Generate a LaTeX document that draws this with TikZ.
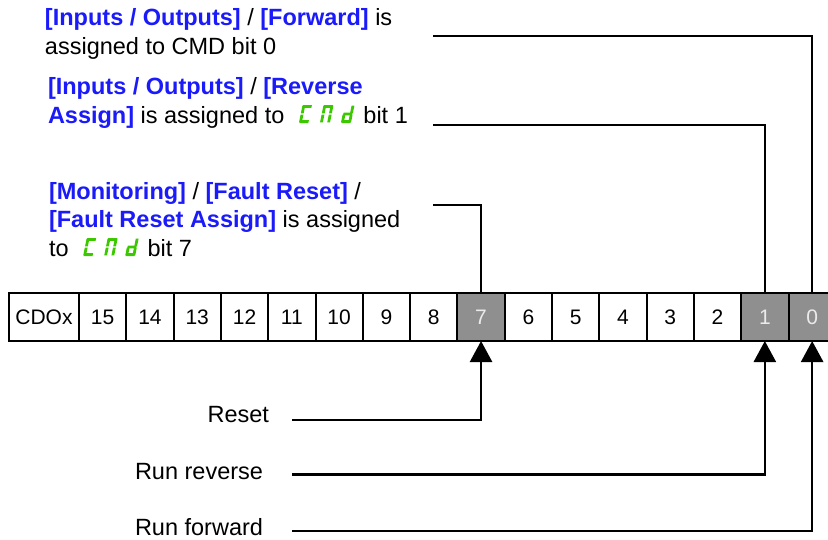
\documentclass[tikz,border=0pt]{standalone}
\usepackage{fontspec}
\setmainfont{Liberation Sans}
\usetikzlibrary{arrows.meta}
\definecolor{txtblue}{RGB}{26,26,250}
\definecolor{segreen}{RGB}{60,200,0}
\definecolor{cellgray}{RGB}{143,143,143}
\definecolor{celltxt}{RGB}{235,235,235}
\newcommand{\bl}[1]{\textbf{\color{txtblue}#1}}
\newcommand{\sgA}[1]{\fill[segreen] (#1+0.6,15.2) rectangle (#1+9.4,18);}
\newcommand{\sgF}[1]{\fill[segreen] (#1,9.6) rectangle (#1+2.8,17.4);}
\newcommand{\sgE}[1]{\fill[segreen] (#1,0.6) rectangle (#1+2.8,8.4);}
\newcommand{\sgD}[1]{\fill[segreen] (#1+0.6,0) rectangle (#1+9.4,2.8);}
\newcommand{\sgB}[1]{\fill[segreen] (#1+7.2,9.6) rectangle (#1+10,17.4);}
\newcommand{\sgCc}[1]{\fill[segreen] (#1+7.2,0.6) rectangle (#1+10,8.4);}
\newcommand{\sgG}[1]{\fill[segreen] (#1+0.6,7.6) rectangle (#1+9.4,10.4);}
\newcommand{\cmdsym}{\tikz[baseline=0pt,x=1pt,y=1pt,xslant=0.2]{%
  \path (0,0) (66,0);
  \sgA{8}\sgF{8}\sgE{8}\sgD{8}%
  \sgA{29}\sgF{29}\sgE{29}\sgB{29}\sgCc{29}%
  \sgB{50}\sgCc{50}\sgG{50}\sgE{50}\sgD{50}}}
\tikzset{
  lbl/.style={font=\fontsize{23.5}{28.5}\selectfont, align=left, inner sep=0pt, outer sep=0pt},
  regcell/.style={draw, line width=2pt, minimum width=47.3pt, minimum height=48pt,
    inner sep=0pt, outer sep=0pt, font=\fontsize{21}{25}\selectfont},
  graycell/.style={regcell, fill=cellgray, text=celltxt},
  conn/.style={line width=2.6pt, line join=miter},
  arr/.style={conn, -{Triangle[width=22pt,length=21pt]}}
}
\begin{document}
\begin{tikzpicture}[x=1pt,y=-1pt]
\useasboundingbox[fill=white] (0,0) rectangle (828,539);
\clip (0,0) rectangle (828,539);

% text blocks (anchored at the baseline of their last line)
\node[lbl, anchor=base west] (q1) at (45,54)
  {\bl{[Inputs / Outputs]} / \bl{[Forward]} is\\assigned to CMD bit 0};
\node[lbl, anchor=base west] (q2) at (48,123)
  {\bl{[Inputs / Outputs]} / \bl{[Reverse}\\\bl{Assign]} is assigned to \cmdsym{} bit 1};
\node[lbl, anchor=base west] (q3) at (49,256)
  {\bl{[Monitoring]} / \bl{[Fault Reset]} /\\\bl{[Fault Reset Assign]} is assigned\\to \cmdsym{} bit 7};

% register
\node[regcell, minimum width=70pt] (cdox) at (44,317) {CDOx};
\foreach \b/\i in {15/0,14/1,13/2,12/3,11/4,10/5,9/6,8/7,6/9,5/10,4/11,3/12,2/13}{
  \node[regcell] (b\b) at ({79+47.3*(\i+0.5)},317) {\b};
}
\node[graycell] (b7) at ({79+47.3*8.5},317) {7};
\node[graycell] (b1) at ({79+47.3*14.5},317) {1};
\node[graycell] (b0) at ({79+47.3*15.5},317) {0};

% top connectors
\coordinate (t1) at (433,36);
\coordinate (t2) at (433,125);
\coordinate (t3) at (433,205);
\draw[conn] (t1) -| (b0.north);
\draw[conn] (t2) -| (b1.north);
\draw[conn] (t3) -| (b7.north);

% bottom labels
\node[lbl, anchor=base east] (l1) at (269,422) {Reset};
\node[lbl, anchor=base east] (l2) at (263,479) {Run reverse};
\node[lbl, anchor=base east] (l3) at (263,535) {Run forward};
\coordinate (s1) at (292,420);
\coordinate (s2) at (292,474.5);
\coordinate (s3) at (292,531);
\draw[arr] (s1) -| (b7.south);
\draw[arr] (s2) -| (b1.south);
\draw[arr] (s3) -| (b0.south);
\end{tikzpicture}
\end{document}
